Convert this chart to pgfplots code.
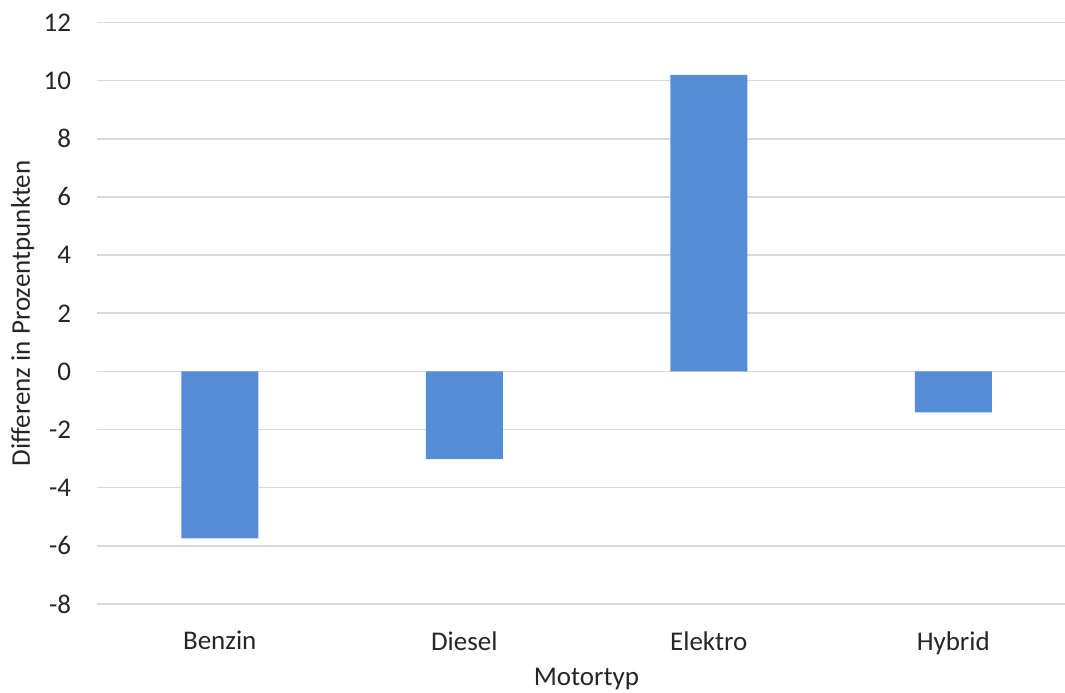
\documentclass[border=0pt]{standalone}
\usepackage{fontspec}
\setmainfont{Carlito}
\usepackage{pgfplots}
\pgfplotsset{compat=1.18}
\definecolor{barblue}{RGB}{85,142,213}
\definecolor{gridgrey}{RGB}{217,217,217}
\definecolor{txt}{RGB}{38,38,38}
\begin{document}
\begin{tikzpicture}
\clip (-48.75bp,-44.5bp) rectangle (483.75bp,302bp);
\begin{axis}[
  at={(0,0)}, anchor=south west,
  scale only axis,
  width=483.75bp, height=290.75bp,
  xmin=-0.5, xmax=3.457,
  ymin=-8, ymax=12,
  ytick={-8,-6,...,12},
  xtick=data,
  xticklabels={Benzin,Diesel,Elektro,Hybrid},
  axis line style={draw=none},
  major tick length=0pt,
  ymajorgrids,
  grid style={gridgrey, line width=0.75bp},
  font=\fontsize{13.5bp}{15bp}\selectfont,
  /pgf/number format/assume math mode=true,
  tick label style={text=txt},
  yticklabel style={anchor=east, inner sep=0pt, xshift=-13bp},
  xticklabel style={anchor=north, inner sep=0pt, yshift=-13.5bp},
  xlabel={Motortyp},
  ylabel={Differenz in Prozentpunkten},
  label style={text=txt},
  xlabel style={at={(axis description cs:0.5054,0)}, anchor=north, inner sep=0pt, yshift=-32bp},
  ylabel style={at={(axis description cs:-0.0698,0.5)}, anchor=base, inner sep=0pt},
  clip=false,
]
\addplot[ybar, bar width=38.5bp, fill=barblue, draw=none] coordinates {
  (0,-5.74) (1,-3.02) (2,10.2) (3,-1.41)
};
\end{axis}
\end{tikzpicture}
\end{document}
